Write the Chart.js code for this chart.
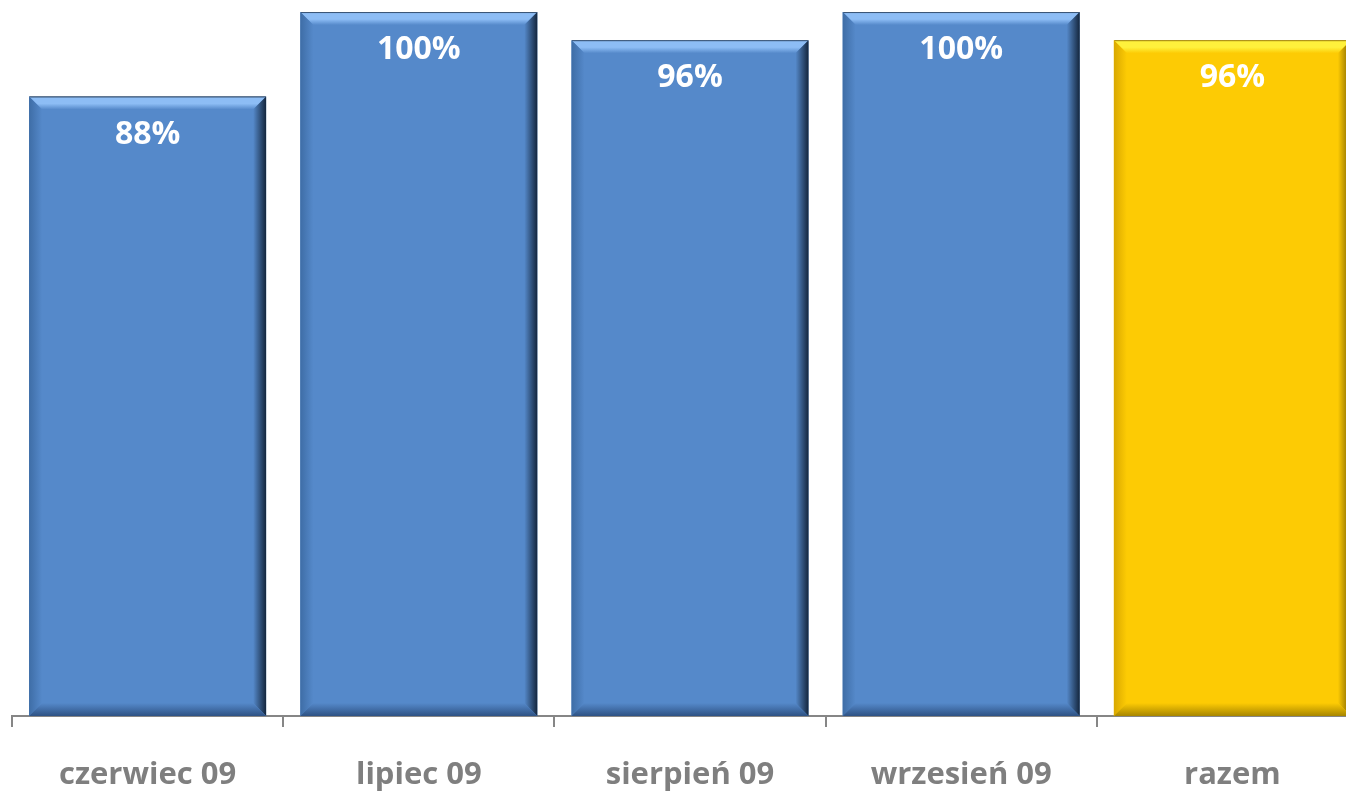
<!DOCTYPE html>
<html>
<head>
<meta charset="utf-8">
<script src="https://cdn.jsdelivr.net/npm/chart.js@4/dist/chart.umd.min.js"></script>
<style>
  html, body { margin: 0; padding: 0; background: #fff; overflow: hidden; }
  #wrap { width: 1368px; height: 795px; }
</style>
</head>
<body>
<div id="wrap"><canvas id="myBarChart"></canvas></div>
<script>
// months plus the overall total
const categories = ['czerwiec 09', 'lipiec 09', 'sierpień 09', 'wrzesień 09', 'razem'];
const percentValues = [88, 100, 96, 100, 96];
const barColors = ['#5589CA', '#5589CA', '#5589CA', '#5589CA', '#FDCB04'];

// bevel shades per bar colour: [top light, left, right dark, bottom dark]
const bevelShades = {
  '#5589CA': ['#8DBDF5', '#3E6DA6', '#14263D', '#2E5284'],
  '#FDCB04': ['#FFF13C', '#D9A800', '#7A5E00', '#A88600']
};

let myBarChart = document.getElementById('myBarChart').getContext('2d');

// draws the bevelled edges on top of each plain bar
const bevelPlugin = {
  id: 'bevel',
  afterDatasetsDraw(chart) {
    const ctx = chart.ctx;
    const meta = chart.getDatasetMeta(0);
    meta.data.forEach(function(bar, i) {
      const shades = bevelShades[barColors[i]];
      const base = barColors[i];
      const l = bar.x - bar.width / 2, r = bar.x + bar.width / 2;
      const t = bar.y, b = bar.base;
      const s = 13;
      let g;
      ctx.save();
      // top
      g = ctx.createLinearGradient(0, t, 0, t + s);
      g.addColorStop(0, shades[2]);
      g.addColorStop(0.12, shades[0]);
      g.addColorStop(0.55, shades[0]);
      g.addColorStop(1, base);
      ctx.fillStyle = g;
      ctx.beginPath();
      ctx.moveTo(l, t); ctx.lineTo(r, t); ctx.lineTo(r - s, t + s); ctx.lineTo(l + s, t + s);
      ctx.closePath(); ctx.fill();
      // left
      g = ctx.createLinearGradient(l, 0, l + s, 0);
      g.addColorStop(0, shades[1]);
      g.addColorStop(1, base);
      ctx.fillStyle = g;
      ctx.beginPath();
      ctx.moveTo(l, t); ctx.lineTo(l + s, t + s); ctx.lineTo(l + s, b - s); ctx.lineTo(l, b);
      ctx.closePath(); ctx.fill();
      // right
      g = ctx.createLinearGradient(r, 0, r - s, 0);
      g.addColorStop(0, shades[2]);
      g.addColorStop(1, base);
      ctx.fillStyle = g;
      ctx.beginPath();
      ctx.moveTo(r, t); ctx.lineTo(r - s, t + s); ctx.lineTo(r - s, b - s); ctx.lineTo(r, b);
      ctx.closePath(); ctx.fill();
      // bottom
      g = ctx.createLinearGradient(0, b, 0, b - s);
      g.addColorStop(0, shades[3]);
      g.addColorStop(1, base);
      ctx.fillStyle = g;
      ctx.beginPath();
      ctx.moveTo(l, b); ctx.lineTo(r, b); ctx.lineTo(r - s, b - s); ctx.lineTo(l + s, b - s);
      ctx.closePath(); ctx.fill();
      ctx.restore();
    });
  }
};

// percent labels near the top inside each bar
const valueLabels = {
  id: 'valueLabels',
  afterDatasetsDraw(chart) {
    const ctx = chart.ctx;
    const meta = chart.getDatasetMeta(0);
    ctx.save();
    ctx.font = 'bold 32px "Open Sans"';
    ctx.fillStyle = '#ffffff';
    ctx.textAlign = 'center';
    ctx.textBaseline = 'middle';
    meta.data.forEach(function(bar, i) {
      ctx.fillText(percentValues[i] + '%', bar.x, bar.y + 38);
    });
    ctx.restore();
  }
};

const newChart = new Chart(myBarChart, {
  type: 'bar',
  data: {
    labels: categories,
    datasets: [{
      data: percentValues,
      backgroundColor: barColors,
      borderWidth: 0,
      categoryPercentage: 1,
      barPercentage: 0.874
    }]
  },
  options: {
    responsive: true,
    maintainAspectRatio: false,
    animation: false,
    layout: { padding: { top: 12, left: 12, right: 0, bottom: 0 } },
    plugins: {
      legend: { display: false },
      tooltip: { enabled: false }
    },
    scales: {
      y: {
        display: false,
        min: 0,
        max: 100
      },
      x: {
        grid: {
          drawOnChartArea: false,
          drawTicks: true,
          tickLength: 11,
          color: '#868686',
          lineWidth: 2,
          offset: true
        },
        border: { color: '#868686', width: 2 },
        ticks: {
          color: '#7F7F7F',
          padding: 30,
          font: { family: '"Open Sans"', size: 31, weight: 'bold' }
        },
        afterFit: function(scale) { scale.height = 79; }
      }
    }
  },
  plugins: [bevelPlugin, valueLabels]
});
</script>
</body>
</html>
